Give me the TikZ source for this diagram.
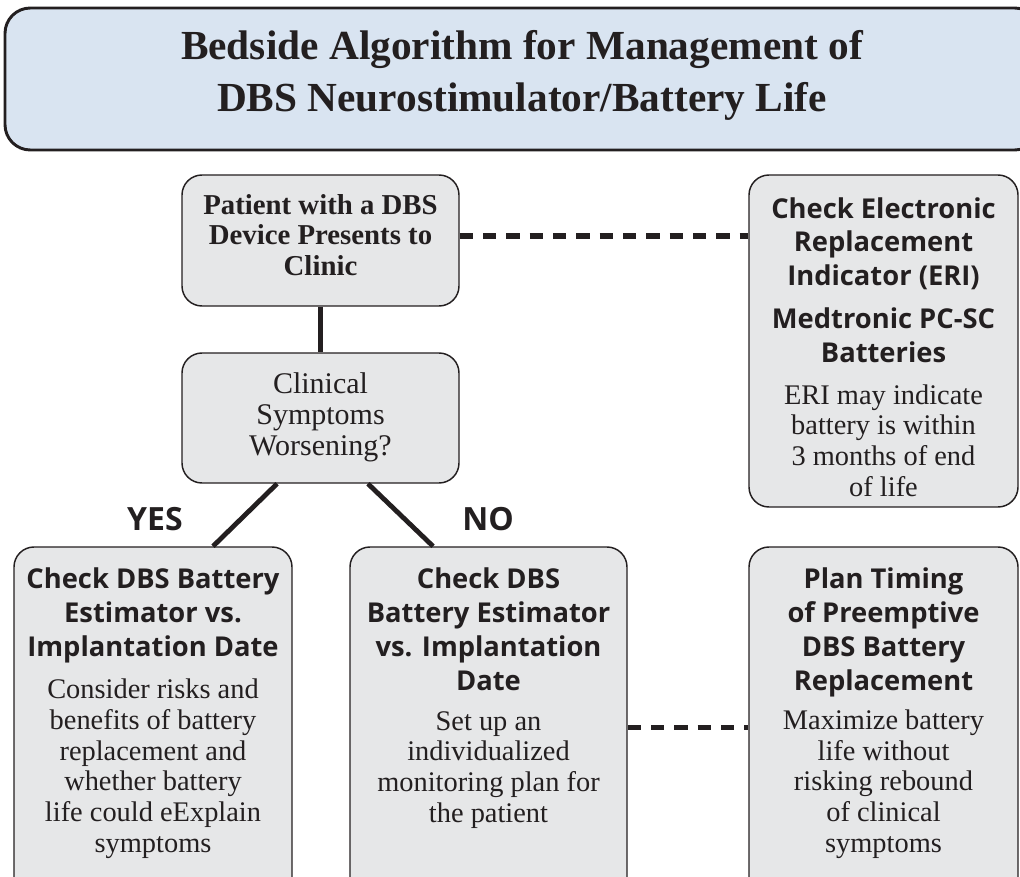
\documentclass[tikz,border=0pt]{standalone}
\usepackage{fontspec}
\setmainfont{Liberation Serif}
\newfontfamily\hsans{Open Sans}
\usetikzlibrary{fit,calc}
\definecolor{boxgray}{RGB}{230,231,232}
\definecolor{titleblue}{RGB}{217,228,241}
\definecolor{ink}{RGB}{35,31,32}
\begin{document}
\begin{tikzpicture}[x=0.75pt,y=-0.75pt,
  gbox/.style={draw=ink,line width=1.1pt,fill=boxgray,rounded corners=15pt,inner sep=0pt},
  tbox/.style={draw=ink,line width=2.2pt,fill=titleblue,rounded corners=19pt,inner sep=0pt},
  conn/.style={draw=ink,line width=3.6pt},
  dconn/.style={draw=ink,line width=4pt,dash pattern=on 10pt off 7.5pt},
  hsty/.style={font=\hsans\bfseries\fontsize{20.5}{25.5}\selectfont,align=center,anchor=base,inner sep=0pt,text=ink},
  bsty/.style={font=\fontsize{21.3}{23}\selectfont,align=center,anchor=base,inner sep=0pt,text=ink},
  psty/.style={font=\bfseries\fontsize{21.6}{22.5}\selectfont,align=center,anchor=base,inner sep=0pt,text=ink},
  tsty/.style={font=\bfseries\fontsize{31}{39}\selectfont,align=center,anchor=base,inner sep=0pt,text=ink},
  ysty/.style={font=\hsans\bfseries\fontsize{24}{28}\selectfont,anchor=base,inner sep=0pt,text=ink},
]
\useasboundingbox (0,0) rectangle (1020,877);
\clip (0,0) rectangle (1020,877);
% boxes
\node[tbox,fit={(5,8) (1040,150)}] (title) {};
\node[gbox,fit={(182,175) (459,306)}] (patient) {};
\node[gbox,fit={(182,353) (459,483)}] (clinical) {};
\node[gbox,fit={(749,175) (1018,507)}] (eri) {};
\node[gbox,fit={(14,547) (292,905)}] (yesbox) {};
\node[gbox,fit={(350,547) (627,905)}] (nobox) {};
\node[gbox,fit={(749,547) (1018,905)}] (planbox) {};
% connectors
\draw[conn] (patient.south) -- (clinical.north);
\draw[conn] ([xshift=-32.6pt]clinical.south) -- ([xshift=45pt]yesbox.north);
\draw[conn] ([xshift=35.6pt]clinical.south) -- ([xshift=-41.6pt]nobox.north);
\draw[dconn] ([yshift=3.4pt]patient.east) -- ([yshift=3.4pt]patient.east -| eri.west);
\draw[dconn] ([yshift=-0.9pt]nobox.east) -- ([yshift=-0.9pt]nobox.east -| planbox.west);
% texts (anchor = baseline of last line)
\node[tsty] (titletext) at (522,112) {Bedside Algorithm for Management of\\DBS Neurostimulator/Battery Life};
\node[psty] (ptext) at (320.5,275) {Patient with a DBS\\Device Presents to\\Clinic};
\node[bsty,font=\fontsize{22.5}{23.2}\selectfont] (ctext) at (320.5,455) {Clinical\\Symptoms\\Worsening?};
\node[hsty] (erih1) at (883.5,286) {Check Electronic\\Replacement\\Indicator (ERI)};
\node[hsty] (erih2) at (883.5,362) {Medtronic PC-SC\\Batteries};
\node[bsty] (eritext) at (883.5,496) {ERI may indicate\\battery is within\\3 months of end\\of life};
\node[ysty] (yes) at (155,530) {YES};
\node[ysty] (no) at (488,530) {NO};
\node[hsty] (yesh) at (153,656) {Check DBS Battery\\Estimator vs.\\Implantation Date};
\node[bsty] (yestext) at (153,852) {Consider risks and\\benefits of battery\\replacement and\\whether battery\\life could eExplain\\symptoms};
\node[hsty] (noh) at (488.5,690) {Check DBS\\Battery Estimator\\vs. Implantation\\Date};
\node[bsty] (notext) at (488.5,822) {Set up an\\individualized\\monitoring plan for\\the patient};
\node[hsty] (planh) at (883.5,690) {Plan Timing\\of Preemptive\\DBS Battery\\Replacement};
\node[bsty] (plantext) at (883.5,852) {Maximize battery\\life without\\risking rebound\\of clinical\\symptoms};
\end{tikzpicture}
\end{document}
